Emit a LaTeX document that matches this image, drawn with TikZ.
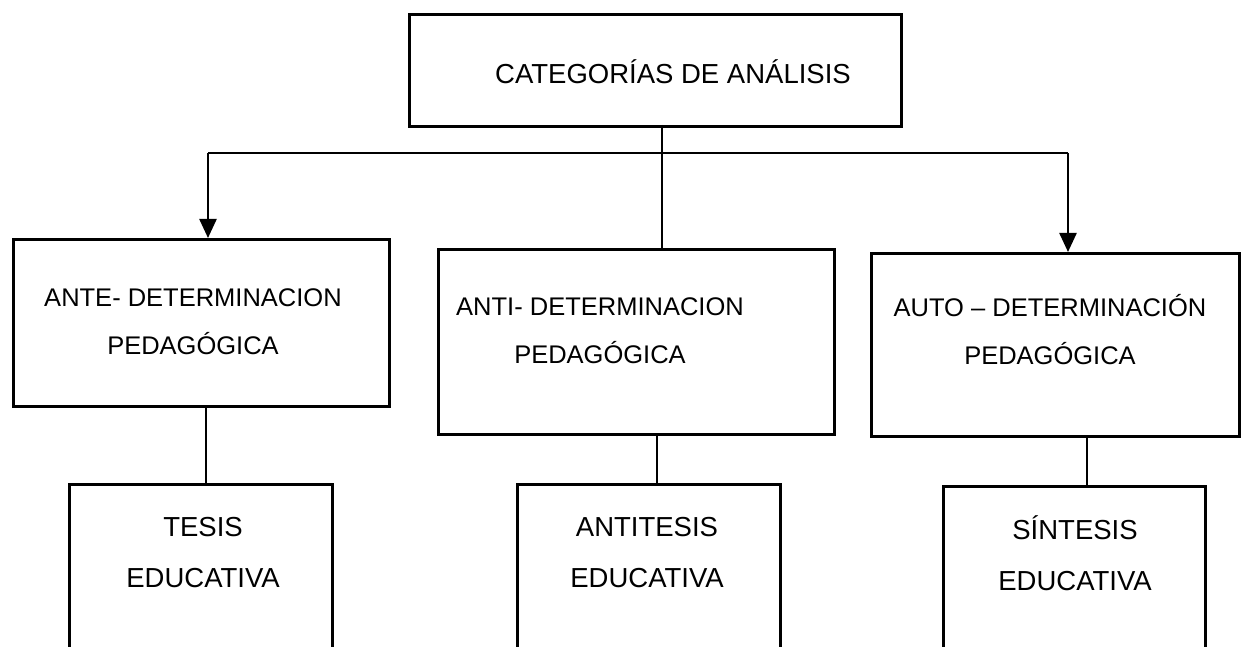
\documentclass[tikz,border=0pt]{standalone}
\usepackage{fontspec}
\setmainfont{Liberation Sans}
\usetikzlibrary{arrows.meta}
\begin{document}
\begin{tikzpicture}[x=1pt,y=-1pt,
  box/.style={draw,line width=2.8pt,rectangle,inner sep=0pt,anchor=north west},
  lbl/.style={align=center,font=\fontsize{25.5}{48}\selectfont,inner sep=0pt},
  lblb/.style={align=center,font=\fontsize{27.5}{51}\selectfont,inner sep=0pt},
  conn/.style={line width=2pt},
  arr/.style={line width=2.4pt,-{Triangle[length=19pt,width=17pt]}}]
\clip (0,0) rectangle (1245,647);
\fill[white] (0,0) rectangle (1245,647);
% boxes
\node[box,minimum width=492pt,minimum height=112pt] (top) at (408,13) {};
\node[box,minimum width=376pt,minimum height=167pt] (ante) at (12,238) {};
\node[box,minimum width=396pt,minimum height=185pt] (anti) at (437,248) {};
\node[box,minimum width=368pt,minimum height=183pt] (auto) at (870,252) {};
\node[box,minimum width=263pt,minimum height=180pt] (tesis) at (68,483) {};
\node[box,minimum width=263pt,minimum height=180pt] (antitesis) at (516,483) {};
\node[box,minimum width=262pt,minimum height=180pt] (sintesis) at (942,485) {};
% labels
\node[lbl,font=\fontsize{27.5}{48}\selectfont] (ltop) at (673,72) {CATEGORÍAS DE ANÁLISIS};
\node[lbl] (lante) at (193,322) {ANTE- DETERMINACION\\PEDAGÓGICA};
\node[lbl] (lanti) at (600,331) {ANTI- DETERMINACION\\PEDAGÓGICA};
\node[lbl] (lauto) at (1050,330) {AUTO – DETERMINACIÓN\\PEDAGÓGICA};
\node[lblb] (ltesis) at (203,553) {TESIS\\EDUCATIVA};
\node[lblb] (lantitesis) at (647,553) {ANTITESIS\\EDUCATIVA};
\node[lblb] (lsintesis) at (1075,553) {SÍNTESIS\\EDUCATIVA};
% junction coordinates
\coordinate (jt) at (662,125);
\coordinate (jm) at (662,248);
\coordinate (jl) at (208,153);
\coordinate (jr) at (1068,153);
% connectors
\draw[conn] (jt) -- (jm);
\draw[line width=2.6pt] (jl) -- (jr);
\draw[arr] (jl) -- (jl |- ante.north);
\draw[arr] (jr) -- (jr |- auto.north);
\coordinate (c1) at (206,405);
\coordinate (c2) at (657,433);
\coordinate (c3) at (1087,435);
\draw[conn] (c1) -- (c1 |- tesis.north);
\draw[conn] (c2) -- (c2 |- antitesis.north);
\draw[conn] (c3) -- (c3 |- sintesis.north);
\end{tikzpicture}
\end{document}
